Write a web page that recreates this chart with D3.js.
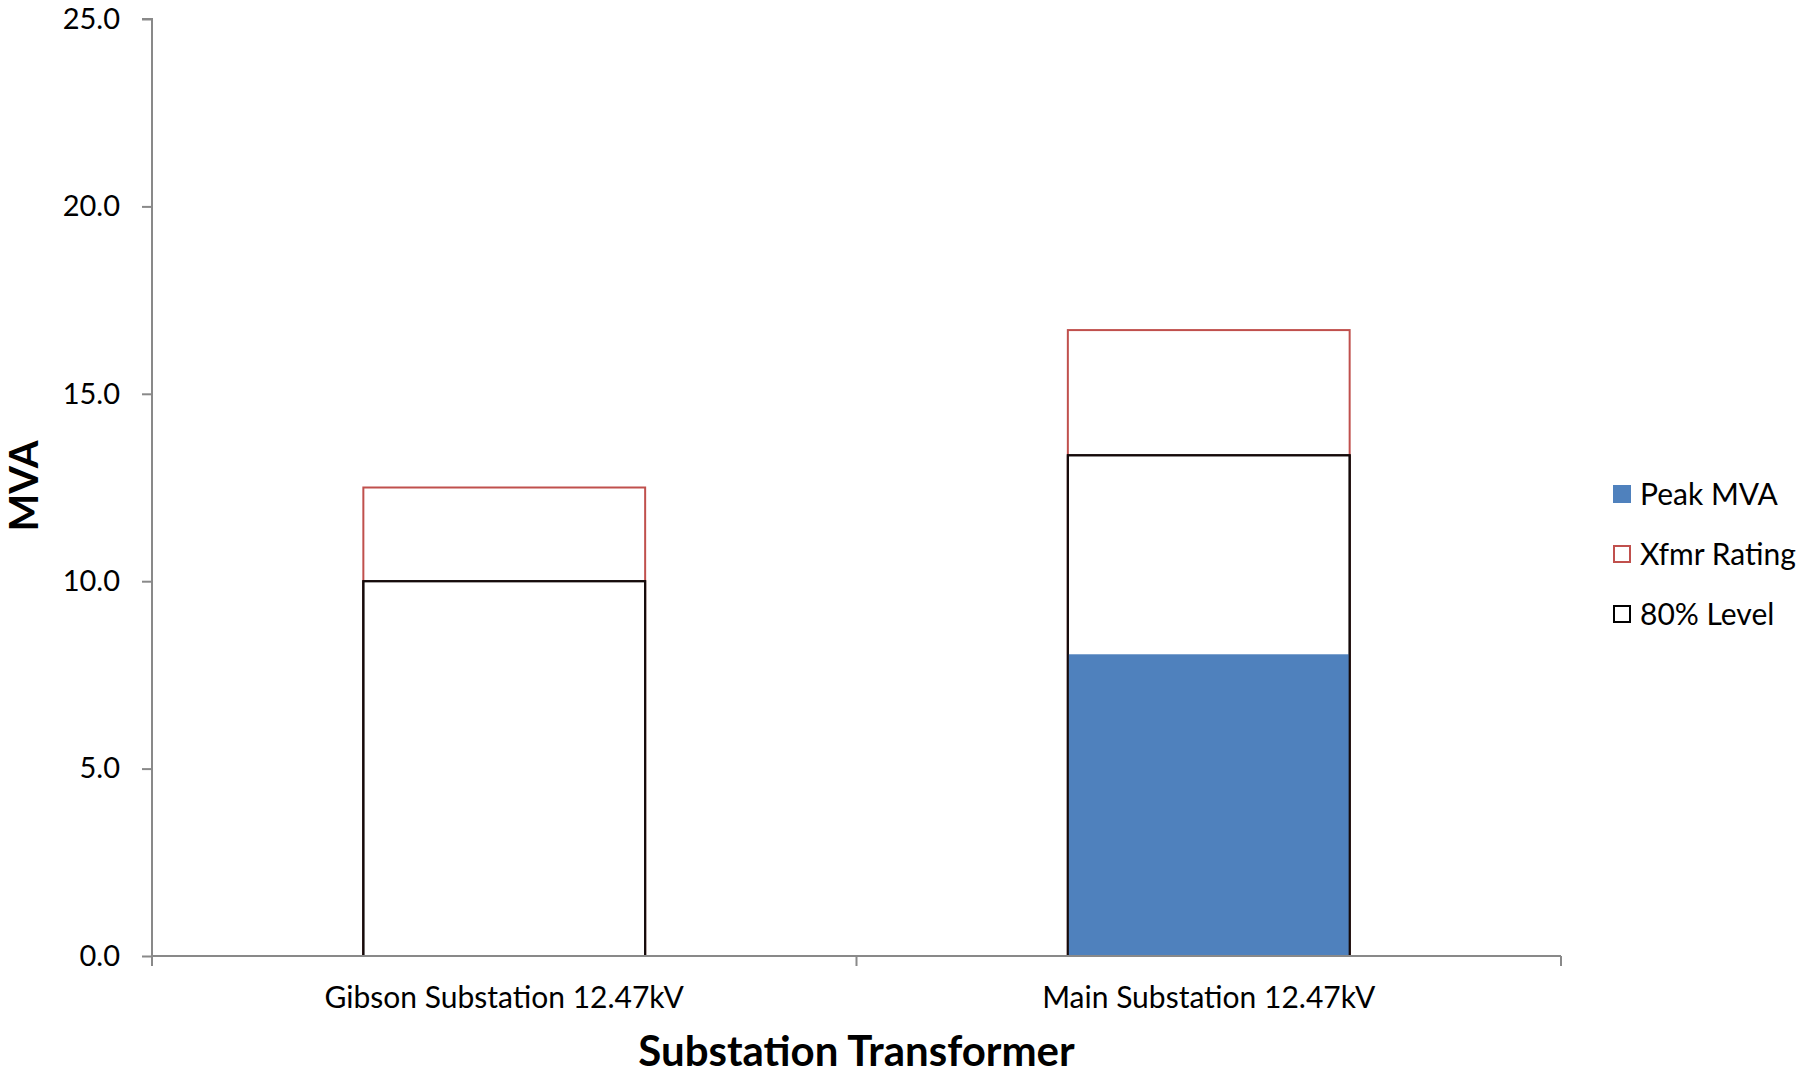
<!DOCTYPE html>
<html>
<head>
<meta charset="utf-8">
<script src="https://cdn.jsdelivr.net/npm/d3@7"></script>
<style>
  html, body { margin: 0; padding: 0; background: #fff; }
  svg { display: block; font-family: Lato, "Open Sans", sans-serif; }
</style>
</head>
<body>
<script>
// Substation transformer loading: peak demand vs. rating and 80% loading level
const categories = ["Gibson Substation 12.47kV", "Main Substation 12.47kV"];
const peakMVA    = [0, 8.05];
const xfmrRating = [12.5, 16.7];
const level80    = [10.0, 13.36];
const yTicks     = [0, 5, 10, 15, 20, 25];
const seriesNames = ["Peak MVA", "Xfmr Rating", "80% Level"];

const W = 1802, H = 1079;
const plot = { left: 152, right: 1561, top: 19, bottom: 956 };

const svg = d3.select("body").append("svg").attr("width", W).attr("height", H);

const x = d3.scaleBand().domain(categories).range([plot.left, plot.right]).padding(0);
const y = d3.scaleLinear().domain([0, 25]).range([plot.bottom, plot.top]);
const barW = x.bandwidth() * 0.4;
const barX = c => x(c) + (x.bandwidth() - barW) / 2;

const rows = categories.map((c, i) => ({ c, peak: peakMVA[i], rating: xfmrRating[i], lvl: level80[i] }));

const RED = "#c0504d", BLUE = "#4f81bd", AXIS = "#898989";

const bars = svg.append("g");
// Transformer rating (outline)
bars.selectAll("rect.rating").data(rows).join("rect")
  .attr("x", d => barX(d.c)).attr("width", barW)
  .attr("y", d => y(d.rating)).attr("height", d => y(0) - y(d.rating))
  .attr("fill", "#fff").attr("stroke", RED).attr("stroke-width", 2);
// 80% level (outline, white fill covering rating)
bars.selectAll("rect.lvl").data(rows).join("rect")
  .attr("x", d => barX(d.c)).attr("width", barW)
  .attr("y", d => y(d.lvl)).attr("height", d => y(0) - y(d.lvl))
  .attr("fill", "#fff").attr("stroke", "#000").attr("stroke-width", 2);
// Peak demand (solid)
bars.selectAll("rect.peak").data(rows).join("rect")
  .attr("x", d => barX(d.c)).attr("width", barW)
  .attr("y", d => y(d.peak)).attr("height", d => y(0) - y(d.peak))
  .attr("fill", BLUE);
// 80% level side edges over the solid bar
bars.selectAll("rect.lvlEdge").data(rows).join("rect")
  .attr("x", d => barX(d.c)).attr("width", barW)
  .attr("y", d => y(d.lvl)).attr("height", d => y(0) - y(d.lvl))
  .attr("fill", "none").attr("stroke", "#160a0a").attr("stroke-width", 2);

// Y axis
const yAxis = svg.append("g").attr("transform", `translate(${plot.left},0)`)
  .call(d3.axisLeft(y).tickValues(yTicks).tickFormat(d3.format(".1f")).tickSize(10).tickPadding(22));
yAxis.select(".domain").attr("stroke", AXIS).attr("stroke-width", 2)
  .attr("d", `M-10,${plot.top}H0V${plot.bottom}`);
yAxis.selectAll(".tick line").attr("stroke", AXIS).attr("stroke-width", 2);
yAxis.selectAll(".tick text").attr("font-size", 29).attr("fill", "#000")
  .attr("font-family", "Lato, sans-serif");

// X axis with ticks on category boundaries
const xAxisG = svg.append("g").attr("transform", `translate(0,${plot.bottom})`);
xAxisG.append("line").attr("x1", plot.left).attr("x2", plot.right)
  .attr("stroke", AXIS).attr("stroke-width", 2);
const bounds = categories.map(c => x(c)).concat([x(categories[categories.length - 1]) + x.bandwidth()]);
xAxisG.selectAll("line.tk").data(bounds).join("line")
  .attr("x1", d => d).attr("x2", d => d).attr("y1", 0).attr("y2", 10)
  .attr("stroke", AXIS).attr("stroke-width", 2);
xAxisG.selectAll("text").data(categories).join("text")
  .attr("x", d => x(d) + x.bandwidth() / 2).attr("y", 52)
  .attr("text-anchor", "middle").attr("font-size", 30).attr("fill", "#000")
  .text(d => d);

// Axis titles
svg.append("text").attr("x", (plot.left + plot.right) / 2).attr("y", 1066)
  .attr("text-anchor", "middle").attr("font-size", 42).attr("font-weight", "bold")
  .text("Substation Transformer");
svg.append("text").attr("transform", `translate(38,486) rotate(-90)`)
  .attr("text-anchor", "middle").attr("font-size", 40).attr("font-weight", "bold")
  .text("MVA");

// Legend
const legend = svg.append("g").attr("transform", "translate(1613,494)");
const legItems = seriesNames.map((n, i) => ({ n, i }));
const sw = [
  { fill: BLUE, stroke: "none" },
  { fill: "#fff", stroke: RED },
  { fill: "#fff", stroke: "#000" }
];
const li = legend.selectAll("g").data(legItems).join("g")
  .attr("transform", d => `translate(0,${d.i * 60})`);
li.append("rect")
  .attr("x", d => sw[d.i].stroke === "none" ? 0 : 1)
  .attr("y", d => sw[d.i].stroke === "none" ? -9 : -8)
  .attr("width", d => sw[d.i].stroke === "none" ? 18 : 16)
  .attr("height", d => sw[d.i].stroke === "none" ? 18 : 16)
  .attr("fill", d => sw[d.i].fill).attr("stroke", d => sw[d.i].stroke).attr("stroke-width", 2);
li.append("text").attr("x", 27).attr("dy", "0.36em").attr("font-size", 30).attr("fill", "#000")
  .text(d => d.n);
</script>
</body>
</html>
